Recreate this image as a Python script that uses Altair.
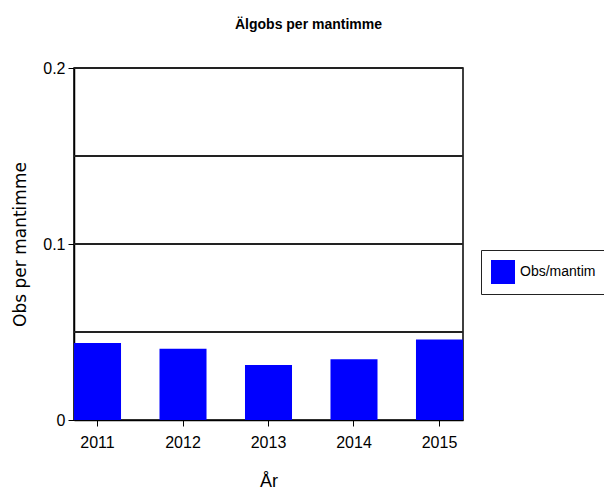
import altair as alt
import pandas as pd

years = ["2011", "2012", "2013", "2014", "2015"]
values = [0.0437, 0.0405, 0.0312, 0.0345, 0.0457]
series = ["Obs/mantim"] * 5
grid_values = [0.05, 0.1, 0.15, 0.2]
y_ticks = [0, 0.1, 0.2]

FONT = "Liberation Sans, Arial, sans-serif"

df = pd.DataFrame({"year": years, "value": values, "series": series})
gdf = pd.DataFrame({"value": grid_values})

bars = alt.Chart(df).mark_bar().encode(
    x=alt.X(
        "year:N",
        scale=alt.Scale(paddingInner=0.45, paddingOuter=0),
        axis=alt.Axis(
            title="År", labelAngle=0, labelFont=FONT, labelFontSize=16,
            labelBaseline="alphabetic", labelPadding=21, tickSize=6,
            titleFont=FONT, titleFontSize=18, titleFontWeight="normal",
            titleBaseline="alphabetic", titleY=66,
        ),
    ),
    y=alt.Y(
        "value:Q",
        scale=alt.Scale(domain=[0, 0.2], nice=False),
        axis=alt.Axis(
            title="Obs per mantimme", values=y_ticks, grid=False, format=".1~f",
            labelFont=FONT, labelFontSize=16, labelPadding=3, tickSize=6,
            titleFont="DejaVu Sans", titleFontSize=17, titleFontWeight="normal",
            titleAngle=270, titleAlign="center", titleBaseline="middle",
            titleX=-54, titleY=176,
        ),
    ),
    color=alt.Color(
        "series:N",
        scale=alt.Scale(range=["#0000ff"]),
        legend=alt.Legend(
            title=None, orient="none", legendX=407, legendY=182,
            strokeColor="#222", fillColor="white", padding=10,
            symbolType="square", symbolSize=576, symbolStrokeWidth=0,
            labelFont=FONT, labelFontSize=14, labelOffset=5, labelColor="black",
        ),
    ),
)

rules = alt.Chart(gdf).mark_rule(color="#222", strokeWidth=2).encode(
    y=alt.Y("value:Q")
)

chart = alt.layer(bars, rules).properties(
    width=389,
    height=352,
    title=alt.Title(
        "Älgobs per mantimme", font=FONT, fontSize=14, fontWeight="bold",
        anchor="middle", dx=40, offset=17, baseline="alphabetic", color="black",
    ),
    autosize=alt.AutoSizeParams(type="none"),
    padding={"left": 66, "top": 60, "right": 141, "bottom": 71},
).configure_view(
    stroke="black", strokeWidth=1.5
).configure_axis(
    domainColor="black", tickColor="black", labelColor="black",
    titleColor="black", domainWidth=1.5,
)

chart.save("out.html", embed_options={"renderer": "svg", "actions": False})
